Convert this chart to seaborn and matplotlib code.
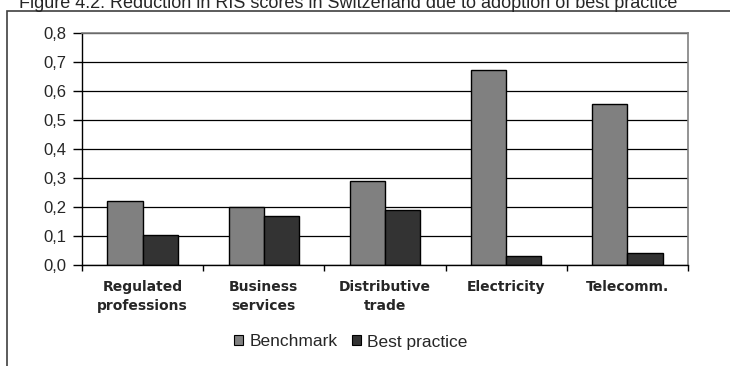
import matplotlib
matplotlib.use("Agg")
import matplotlib.pyplot as plt
import seaborn as sns
import pandas as pd
from matplotlib.patches import Rectangle

sns.set_theme(style="white")
plt.rcParams["font.family"] = ["Liberation Sans", "DejaVu Sans"]

categories = ["Regulated\nprofessions", "Business\nservices", "Distributive\ntrade",
              "Electricity", "Telecomm."]
benchmark = [0.222, 0.199, 0.291, 0.672, 0.556]
best_practice = [0.104, 0.169, 0.189, 0.031, 0.042]
series = ["Benchmark", "Best practice"]
colors = ["#808080", "#333333"]
yticks = [0.0, 0.1, 0.2, 0.3, 0.4, 0.5, 0.6, 0.7, 0.8]
title = "Figure 4.2: Reduction in RIS scores in Switzerland due to adoption of best practice"

df = pd.DataFrame({
    "category": categories * 2,
    "value": benchmark + best_practice,
    "series": [series[0]] * len(categories) + [series[1]] * len(categories),
})

fig = plt.figure(figsize=(7.3, 3.66), dpi=100)
ax = fig.add_axes([82 / 730, 1 - 265 / 366, (688 - 82) / 730, (265 - 33) / 366])

sns.barplot(data=df, x="category", y="value", hue="series", palette=colors,
            width=0.58, edgecolor="black", linewidth=1.0, saturation=1,
            ax=ax, legend=False)

ax.set_ylim(0, 0.8)
ax.set_xlim(-0.5, len(categories) - 0.5)
ax.set_yticks(yticks)
ax.set_yticklabels([f"{v:.1f}".replace(".", ",") for v in yticks], fontsize=12)
ax.yaxis.grid(True, color="black", linewidth=0.9)
ax.set_axisbelow(True)
ax.set_xlabel("")
ax.set_ylabel("")

# Category labels centred under each group, boundary ticks between groups
ax.set_xticks(range(len(categories)))
ax.set_xticklabels(categories, fontsize=10, fontweight="bold", linespacing=1.4,
                   family="DejaVu Sans")
ax.tick_params(axis="x", length=0, pad=11)
ax.set_xticks([i - 0.5 for i in range(len(categories) + 1)], minor=True)
ax.tick_params(axis="x", which="minor", length=4, width=1, color="black",
               direction="out", bottom=True)
ax.tick_params(axis="y", length=6.5, width=1, color="black", direction="out",
               left=True, pad=5)

for side in ["left", "bottom"]:
    ax.spines[side].set_color("black")
    ax.spines[side].set_linewidth(1.0)
for side in ["top", "right"]:
    ax.spines[side].set_color("#808080")
    ax.spines[side].set_linewidth(1.2)

handles = [Rectangle((0, 0), 1, 1, facecolor=c, edgecolor="black", linewidth=0.8)
           for c in colors]
fig.legend(handles, series, loc="center", bbox_to_anchor=(351 / 730, 1 - 342 / 366),
           ncol=2, frameon=False, fontsize=12.5, handlelength=0.5, handleheight=0.5,
           handletextpad=0.4, columnspacing=0.8)

# Outer chart frame
fig.patches.append(Rectangle((6.5 / 730, -0.05), 1.0, 1 - 10.5 / 366 + 0.05,
                             transform=fig.transFigure, fill=False,
                             edgecolor="#404040", linewidth=1.2, clip_on=False))

fig.text(19 / 730, 1 - 8.5 / 366, title, fontsize=13, ha="left", va="baseline")

fig.savefig("out.png", dpi=100)
